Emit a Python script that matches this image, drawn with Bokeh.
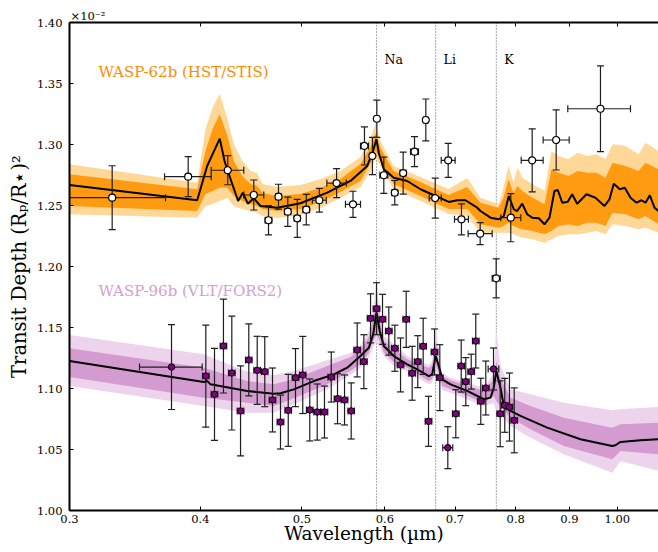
import numpy as np
from bokeh.plotting import figure
from bokeh.models import (FixedTicker, LogAxis, Span, Label, Range1d, Title,
                          PrintfTickFormatter, CustomJSTickFormatter)
from bokeh.embed import file_html
from bokeh.resources import INLINE

FONT = "DejaVu Serif"

# ---------------- axis ticks ----------------
xticks = [0.3, 0.4, 0.5, 0.6, 0.7, 0.8, 0.9, 1.0]
xtick_labels = ["0.3", "0.4", "0.5", "0.6", "0.7", "0.8", "0.9", "1.00"]
yticks = [1.00, 1.05, 1.10, 1.15, 1.20, 1.25, 1.30, 1.35, 1.40]

# ---------------- line markers ----------------
line_wl = [0.589, 0.6708, 0.7665]
line_names = ["Na", "Li", "K"]

# ---------------- WASP-62b model + bands ----------------
wl62 = [0.3000, 0.3972, 0.4060, 0.4174, 0.4218, 0.4248, 0.4346, 0.4391, 0.4439, 0.4498,
        0.4565, 0.4736, 0.4984, 0.5286, 0.5563, 0.5772, 0.5838, 0.5890, 0.5920, 0.5986,
        0.6119, 0.6302, 0.6489, 0.6707, 0.6905, 0.7034, 0.7163, 0.7350, 0.7403, 0.7568,
        0.7707, 0.7792, 0.7878, 0.7966, 0.8025, 0.8114, 0.8203, 0.8294, 0.8415, 0.8522,
        0.8615, 0.8710, 0.8774, 0.8860, 0.8969, 0.9056, 0.9156, 0.9346, 0.9532, 0.9722,
        0.9830, 0.9923, 1.0056, 1.0166, 1.0295, 1.0431, 1.0546, 1.0640, 1.0741, 1.0852, 1.0948]
model62 = [1.2668, 1.2543, 1.2824, 1.3048, 1.2865, 1.2783, 1.2537, 1.2605, 1.2515, 1.2559,
           1.2496, 1.2482, 1.2518, 1.2605, 1.2701, 1.2824, 1.2933, 1.3043, 1.2933, 1.2797,
           1.2728, 1.2701, 1.2633, 1.2578, 1.2529, 1.2543, 1.2543, 1.2482, 1.2455, 1.2400,
           1.2387, 1.2414, 1.2578, 1.2469, 1.2455, 1.2515, 1.2428, 1.2400, 1.2395, 1.2346,
           1.2400, 1.2619, 1.2627, 1.2523, 1.2531, 1.2592, 1.2515, 1.2592, 1.2564, 1.2496,
           1.2551, 1.2679, 1.2633, 1.2646, 1.2564, 1.2523, 1.2543, 1.2523, 1.2584, 1.2482, 1.2455]

band62_wl = [0.3000, 0.3972, 0.4045, 0.4108, 0.4174, 0.4245, 0.4305, 0.4385, 0.4466, 0.4532,
             0.4585, 0.4736, 0.4984, 0.5209, 0.5442, 0.5687, 0.5814, 0.5878, 0.5943, 0.6115,
             0.6489, 0.6900, 0.7190, 0.7403, 0.7702, 0.7787, 0.7873, 0.7960, 0.8030, 0.8119,
             0.8300, 0.8522, 0.8653, 0.8787, 0.8983, 0.9163, 0.9366, 0.9553, 0.9744, 0.9895,
             1.0182, 1.0477, 1.0640, 1.0948]
band62_2hi = [1.2838, 1.2687, 1.3127, 1.3302, 1.3416, 1.3209, 1.3004, 1.2865, 1.2783, 1.2766,
              1.2676, 1.2652, 1.2668, 1.2717, 1.2783, 1.2898, 1.3053, 1.3176, 1.3029, 1.2824,
              1.2734, 1.2635, 1.2725, 1.2564, 1.2510, 1.2646, 1.2824, 1.2687, 1.2810, 1.2728,
              1.2674, 1.2619, 1.2947, 1.2906, 1.2879, 1.2933, 1.2906, 1.2920, 1.2879, 1.3002,
              1.2988, 1.2920, 1.3015, 1.2947]
band62_1hi = [1.2756, 1.2633, 1.2947, 1.3127, 1.3248, 1.3070, 1.2865, 1.2742, 1.2676, 1.2660,
              1.2603, 1.2578, 1.2594, 1.2643, 1.2717, 1.2840, 1.2980, 1.3094, 1.2971, 1.2783,
              1.2692, 1.2586, 1.2652, 1.2523, 1.2482, 1.2564, 1.2715, 1.2605, 1.2660, 1.2619,
              1.2564, 1.2510, 1.2797, 1.2769, 1.2742, 1.2783, 1.2769, 1.2769, 1.2728, 1.2851,
              1.2824, 1.2783, 1.2851, 1.2797]
band62_1lo = [1.2496, 1.2455, 1.2594, 1.2619, 1.2646, 1.2646, 1.2578, 1.2537, 1.2512, 1.2496,
              1.2471, 1.2455, 1.2471, 1.2529, 1.2611, 1.2701, 1.2848, 1.2947, 1.2865, 1.2676,
              1.2578, 1.2471, 1.2471, 1.2346, 1.2318, 1.2332, 1.2359, 1.2332, 1.2318, 1.2305,
              1.2291, 1.2264, 1.2291, 1.2332, 1.2346, 1.2332, 1.2359, 1.2359, 1.2332, 1.2441,
              1.2428, 1.2387, 1.2414, 1.2346]
band62_2lo = [1.2428, 1.2400, 1.2496, 1.2512, 1.2537, 1.2564, 1.2496, 1.2471, 1.2455, 1.2438,
              1.2414, 1.2397, 1.2422, 1.2479, 1.2561, 1.2652, 1.2783, 1.2889, 1.2824, 1.2635,
              1.2537, 1.2430, 1.2414, 1.2277, 1.2277, 1.2277, 1.2277, 1.2264, 1.2250, 1.2236,
              1.2223, 1.2195, 1.2223, 1.2250, 1.2264, 1.2264, 1.2277, 1.2291, 1.2264, 1.2346,
              1.2332, 1.2305, 1.2318, 1.2277]

# ---------------- WASP-62b observations (HST/STIS) ----------------
obs62_wl = [0.3295, 0.3894, 0.4248, 0.4498, 0.4646, 0.4749, 0.4847, 0.4949, 0.5048, 0.5195,
            0.5396, 0.5594, 0.5737, 0.5838, 0.5895, 0.5986, 0.6132, 0.6246, 0.6404, 0.6565,
            0.6702, 0.6896, 0.7100, 0.7398, 0.7663, 0.7913, 0.8294, 0.8743, 0.9637]
obs62_depth = [1.2564, 1.2736, 1.2789, 1.2586, 1.2379, 1.2572, 1.2449, 1.2395, 1.2466, 1.2543,
               1.2684, 1.2510, 1.2988, 1.2906, 1.3211, 1.2748, 1.2605, 1.2766, 1.2941, 1.3201,
               1.2561, 1.2870, 1.2387, 1.2269, 1.1903, 1.2400, 1.2870, 1.3037, 1.3293]
obs62_err = [0.0262, 0.0164, 0.0119, 0.0123, 0.0120, 0.0102, 0.0120, 0.0156, 0.0125, 0.0097,
             0.0119, 0.0107, 0.0156, 0.0153, 0.0153, 0.0148, 0.0100, 0.0172, 0.0123, 0.0172,
             0.0164, 0.0139, 0.0127, 0.0090, 0.0160, 0.0197, 0.0258, 0.0246, 0.0352]
obs62_wlo = [0.2900, 0.3697, 0.4096, 0.4400, 0.4612, 0.4721, 0.4815, 0.4916, 0.5011, 0.5116,
             0.5282, 0.5502, 0.5687, 0.5812, 0.5882, 0.5934, 0.6092, 0.6205, 0.6348, 0.6536,
             0.6614, 0.6791, 0.6992, 0.7205, 0.7596, 0.7741, 0.8096, 0.8496, 0.8969]
obs62_whi = [0.3705, 0.4096, 0.4400, 0.4598, 0.4680, 0.4777, 0.4879, 0.4982, 0.5085, 0.5275,
             0.5512, 0.5687, 0.5788, 0.5864, 0.5908, 0.6039, 0.6172, 0.6287, 0.6460, 0.6594,
             0.6791, 0.7002, 0.7209, 0.7596, 0.7731, 0.8089, 0.8496, 0.8997, 1.0294]

# ---------------- WASP-96b model + bands ----------------
wl96 = [0.3000, 0.4030, 0.4060, 0.4090, 0.4433, 0.4700, 0.4770, 0.4912, 0.5132, 0.5363,
        0.5524, 0.5687, 0.5792, 0.5848, 0.5890, 0.5933, 0.5986, 0.6119, 0.6302, 0.6442,
        0.6608, 0.6657, 0.6690, 0.6708, 0.6755, 0.6806, 0.6931, 0.7190, 0.7457, 0.7568,
        0.7623, 0.7665, 0.7736, 0.7792, 0.7908, 0.8083, 0.8572, 0.9223, 0.9888, 0.9960,
        1.0071, 1.0523, 1.0948]
model96 = [1.1225, 1.1053, 1.1061, 1.1034, 1.0980, 1.0957, 1.0961, 1.0993, 1.1061, 1.1116,
           1.1171, 1.1266, 1.1334, 1.1444, 1.1621, 1.1471, 1.1348, 1.1266, 1.1198, 1.1157,
           1.1102, 1.1116, 1.1211, 1.1266, 1.1184, 1.1075, 1.1034, 1.0980, 1.0912, 1.0925,
           1.1007, 1.1143, 1.1007, 1.0857, 1.0816, 1.0775, 1.0679, 1.0584, 1.0529, 1.0535,
           1.0562, 1.0575, 1.0584]

band96_wl = [0.3000, 0.4030, 0.4433, 0.4700, 0.4912, 0.5286, 0.5563, 0.5687, 0.5792, 0.5848,
             0.5890, 0.5933, 0.5986, 0.6119, 0.6302, 0.6608, 0.6657, 0.6708, 0.6755, 0.6806,
             0.6931, 0.7457, 0.7623, 0.7665, 0.7736, 0.7908, 0.8263, 0.8890, 0.9888, 1.0071,
             1.0948]
band96_2hi = [1.1439, 1.1280, 1.1138, 1.1111, 1.1144, 1.1231, 1.1291, 1.1357, 1.1471, 1.1635,
              1.1867, 1.1635, 1.1430, 1.1365, 1.1266, 1.1193, 1.1225, 1.1539, 1.1266, 1.1127,
              1.1088, 1.1007, 1.1127, 1.1471, 1.1184, 1.0993, 1.0953, 1.0884, 1.0822, 1.0830,
              1.0848]
band96_1hi = [1.1329, 1.1170, 1.1061, 1.1034, 1.1075, 1.1184, 1.1258, 1.1321, 1.1422, 1.1570,
              1.1744, 1.1570, 1.1389, 1.1332, 1.1239, 1.1168, 1.1193, 1.1389, 1.1225, 1.1102,
              1.1067, 1.0980, 1.1078, 1.1225, 1.1078, 1.0924, 1.0857, 1.0760, 1.0679, 1.0707,
              1.0720]
band96_1lo = [1.1094, 1.0924, 1.0884, 1.0857, 1.0920, 1.1034, 1.1143, 1.1203, 1.1291, 1.1389,
              1.1444, 1.1389, 1.1293, 1.1217, 1.1171, 1.1061, 1.1078, 1.1198, 1.1127, 1.1020,
              1.0993, 1.0884, 1.0938, 1.0897, 1.0857, 1.0760, 1.0666, 1.0529, 1.0420, 1.0488,
              1.0461]
band96_2lo = [1.1021, 1.0856, 1.0802, 1.0802, 1.0870, 1.0994, 1.1111, 1.1171, 1.1250, 1.1340,
              1.1375, 1.1340, 1.1266, 1.1184, 1.1138, 1.1034, 1.1045, 1.1144, 1.1078, 1.0988,
              1.0966, 1.0857, 1.0881, 1.0816, 1.0791, 1.0693, 1.0597, 1.0461, 1.0310, 1.0406,
              1.0324]

# ---------------- WASP-96b observations (VLT/FORS2) ----------------
obs96_wl = [0.3754, 0.4048, 0.4126, 0.4208, 0.4286, 0.4369, 0.4449, 0.4532, 0.4608, 0.4687,
            0.4770, 0.4852, 0.4930, 0.5009, 0.5087, 0.5171, 0.5254, 0.5333, 0.5407, 0.5491,
            0.5572, 0.5646, 0.5729, 0.5814, 0.5891, 0.5969, 0.6052, 0.6133, 0.6210, 0.6288,
            0.6371, 0.6450, 0.6527, 0.6604, 0.6692, 0.6770, 0.6890, 0.7012, 0.7096, 0.7168,
            0.7254, 0.7327, 0.7408, 0.7490, 0.7618, 0.7731, 0.7809, 0.7890, 0.7973]
obs96_depth = [1.1176, 1.1102, 1.0952, 1.1348, 1.1127, 1.0816, 1.1234, 1.1149, 1.1138, 1.0906,
               1.0725, 1.0821, 1.1089, 1.1111, 1.0824, 1.0807, 1.0807, 1.1094, 1.0916, 1.0906,
               1.0816, 1.1316, 1.1220, 1.1575, 1.1654, 1.1567, 1.1471, 1.1330, 1.1193, 1.1567,
               1.1125, 1.1220, 1.1346, 1.0731, 1.1299, 1.1089, 1.0515, 1.0793, 1.1184, 1.1056,
               1.1138, 1.1389, 1.0895, 1.1004, 1.1160, 1.0793, 1.0862, 1.0848, 1.0739]
obs96_err = [0.0348, 0.0418, 0.0377, 0.0385, 0.0467, 0.0369, 0.0295, 0.0279, 0.0287, 0.0262,
             0.0221, 0.0295, 0.0238, 0.0316, 0.0254, 0.0230, 0.0213, 0.0205, 0.0205, 0.0205,
             0.0230, 0.0221, 0.0221, 0.0201, 0.0213, 0.0205, 0.0197, 0.0189, 0.0221, 0.0230,
             0.0221, 0.0213, 0.0230, 0.0205, 0.0189, 0.0270, 0.0172, 0.0197, 0.0213, 0.0197,
             0.0143, 0.0221, 0.0189, 0.0221, 0.0172, 0.0270, 0.0221, 0.0279, 0.0266]
obs96_wlo = [0.3499, 0.4019, 0.4096, 0.4178, 0.4255, 0.4337, 0.4417, 0.4499, 0.4575, 0.4653,
             0.4735, 0.4817, 0.4894, 0.4973, 0.5050, 0.5133, 0.5216, 0.5294, 0.5368, 0.5451,
             0.5532, 0.5605, 0.5687, 0.5772, 0.5848, 0.5926, 0.6008, 0.6089, 0.6165, 0.6242,
             0.6325, 0.6403, 0.6480, 0.6556, 0.6643, 0.6721, 0.6814, 0.6961, 0.7045, 0.7116,
             0.7201, 0.7274, 0.7354, 0.7436, 0.7529, 0.7675, 0.7752, 0.7833, 0.7915]
obs96_whi = [0.4016, 0.4077, 0.4156, 0.4238, 0.4317, 0.4401, 0.4481, 0.4565, 0.4641, 0.4721,
             0.4805, 0.4887, 0.4966, 0.5045, 0.5124, 0.5209, 0.5292, 0.5372, 0.5446, 0.5531,
             0.5612, 0.5687, 0.5771, 0.5856, 0.5934, 0.6012, 0.6096, 0.6177, 0.6255, 0.6334,
             0.6417, 0.6497, 0.6574, 0.6652, 0.6741, 0.6819, 0.6966, 0.7063, 0.7147, 0.7220,
             0.7307, 0.7380, 0.7462, 0.7544, 0.7707, 0.7787, 0.7866, 0.7947, 0.8031]

# ---------------- colours ----------------
ORANGE_TEXT = "#FF8C00"
ORANGE_2S = "#FFD797"
ORANGE_1S = "#FF9B10"
PURPLE_TEXT = "#D59DD3"
PURPLE_2S = "#EDD4EC"
PURPLE_1S = "#D39BCF"
PURPLE_PT = "#800080"
BAR = "#1e1e1e"

p = figure(width=658, height=546, x_axis_type="log",
           x_range=Range1d(0.3, 1.0948), y_range=Range1d(1.0, 1.4),
           output_backend="svg", toolbar_location=None,
           min_border_left=69, min_border_right=0, min_border_top=22, min_border_bottom=36)
p.outline_line_color = None
p.xgrid.visible = False
p.ygrid.visible = False
p.background_fill_color = "white"
p.border_fill_color = "white"

# scale factor note above the frame (as a left-aligned title)
p.title = Title(text="×10⁻²", align="left", text_font=FONT, text_font_size="11.5px",
                text_font_style="normal", text_color="black", standoff=0, offset=1)

# bottom axis
xa = p.xaxis[0]
xa.ticker = FixedTicker(ticks=xticks)
xa.formatter = CustomJSTickFormatter(args=dict(tv=xticks, tl=xtick_labels), code="""
let best = 0, bd = 1e9;
for (let i = 0; i < tv.length; i++) { const d = Math.abs(tv[i] - tick); if (d < bd) { bd = d; best = i; } }
return tl[best];
""")
xa.major_tick_in = 4
xa.major_tick_out = 0
xa.minor_tick_line_color = None
xa.axis_line_width = 2
xa.axis_line_color = "black"
xa.major_tick_line_color = "black"
xa.major_tick_line_width = 1
xa.major_label_standoff = 4
xa.major_label_text_font = FONT
xa.major_label_text_font_size = "11.5px"
xa.major_label_text_color = "black"
xa.axis_label = "Wavelength (µm)"
xa.axis_label_text_font = FONT
xa.axis_label_text_font_size = "18.5px"
xa.axis_label_text_font_style = "normal"
xa.axis_label_text_color = "black"
xa.axis_label_standoff = -3

# top axis (ticks only)
top = LogAxis(ticker=FixedTicker(ticks=xticks),
              formatter=CustomJSTickFormatter(code="return '';"),
              major_label_text_font_size="1px",
              major_tick_in=4, major_tick_out=0, axis_line_width=2,
              axis_line_color="black", major_tick_line_color="black",
              major_label_standoff=0, minor_tick_line_color=None)
p.add_layout(top, "above")

# left axis
ya = p.yaxis[0]
ya.ticker = FixedTicker(ticks=yticks)
ya.formatter = PrintfTickFormatter(format="%.2f")
ya.major_tick_in = 4
ya.major_tick_out = 0
ya.minor_tick_line_color = None
ya.axis_line_width = 2
ya.axis_line_color = "black"
ya.major_tick_line_color = "black"
ya.major_label_standoff = 7
ya.major_label_text_font = FONT
ya.major_label_text_font_size = "11.5px"
ya.major_label_text_color = "black"
ya.axis_label = "Transit Depth (Rₚ/R⋆)²"
ya.axis_label_text_font = FONT
ya.axis_label_text_font_size = "19.5px"
ya.axis_label_text_font_style = "normal"
ya.axis_label_text_color = "black"
ya.axis_label_standoff = 3

# element lines
for w in line_wl:
    p.add_layout(Span(location=w, dimension="height", line_color="#555555",
                      line_dash="1 2", line_width=1, level="underlay"))

# WASP-62b bands and model
p.varea(x=band62_wl, y1=band62_2lo, y2=band62_2hi, fill_color=ORANGE_2S)
p.varea(x=band62_wl, y1=band62_1lo, y2=band62_1hi, fill_color=ORANGE_1S)
p.line(x=wl62, y=model62, line_color="black", line_width=2)

# WASP-96b bands and model
p.varea(x=band96_wl, y1=band96_2lo, y2=band96_2hi, fill_color=PURPLE_2S)
p.varea(x=band96_wl, y1=band96_1lo, y2=band96_1hi, fill_color=PURPLE_1S)
p.line(x=wl96, y=model96, line_color="black", line_width=2)


def errorbars(wl, dep, err, wlo, whi, fill, edge_w, size):
    wl = np.array(wl); dep = np.array(dep); err = np.array(err)
    wlo = np.array(wlo); whi = np.array(whi)
    p.segment(x0=wl, y0=dep - err, x1=wl, y1=dep + err, line_color=BAR, line_width=1.2)
    p.segment(x0=wlo, y0=dep, x1=whi, y1=dep, line_color=BAR, line_width=1.2)
    p.scatter(x=np.concatenate([wl, wl]), y=np.concatenate([dep - err, dep + err]),
              marker="dash", size=7, line_color=BAR, line_width=1.2)
    p.scatter(x=np.concatenate([wlo, whi]), y=np.concatenate([dep, dep]),
              marker="dash", angle=np.pi / 2, size=7, line_color=BAR, line_width=1.2)
    p.scatter(x=wl, y=dep, marker="circle", size=size, fill_color=fill,
              line_color="black", line_width=edge_w)


errorbars(obs96_wl, obs96_depth, obs96_err, obs96_wlo, obs96_whi, PURPLE_PT, 1.0, 6.5)
errorbars(obs62_wl, obs62_depth, obs62_err, obs62_wlo, obs62_whi, "white", 1.2, 7)

# texts inside the frame
for w, name in zip(line_wl, line_names):
    p.add_layout(Label(x=w, y=1.3698, x_offset=8, text=name, text_font=FONT,
                       text_font_size="12.5px", text_color="black", text_baseline="alphabetic"))

p.add_layout(Label(x=0.3197, y=1.3598, text="WASP-62b (HST/STIS)", text_font=FONT,
                   text_font_size="15px", text_color=ORANGE_TEXT, text_baseline="alphabetic"))
p.add_layout(Label(x=0.3197, y=1.1799, text="WASP-96b (VLT/FORS2)", text_font=FONT,
                   text_font_size="15px", text_color=PURPLE_TEXT, text_baseline="alphabetic"))

open("out.html", "w").write(file_html(p, INLINE))
